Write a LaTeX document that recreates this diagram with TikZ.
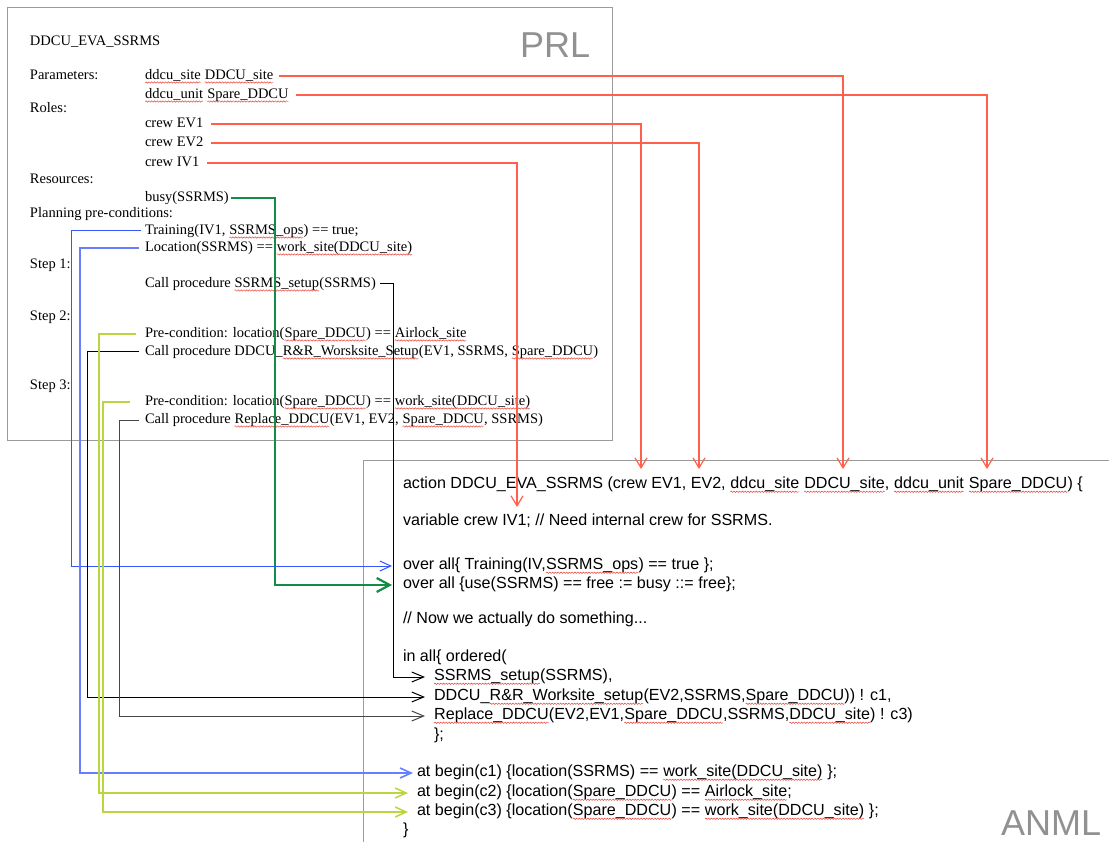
\documentclass[tikz,border=0pt]{standalone}
\usepackage{fontspec}
\setmainfont{Liberation Serif}
\newfontfamily\anmlfont{Liberation Sans}
\usetikzlibrary{arrows.meta,decorations.pathmorphing}

\definecolor{redc}{RGB}{255,95,75}
\definecolor{bluec}{RGB}{55,85,250}
\definecolor{bluel}{RGB}{105,125,255}
\definecolor{greenc}{RGB}{20,140,70}
\definecolor{limec}{RGB}{185,215,60}
\definecolor{boxc}{RGB}{155,155,155}
\definecolor{labc}{RGB}{145,145,145}
\definecolor{sqc}{RGB}{230,60,50}
\definecolor{darkk}{RGB}{70,70,70}

\newcommand\sq[1]{\tikz[baseline=(sqw.base)]{\node[inner sep=0pt,outer sep=0pt,anchor=base west,text height=,text depth=](sqw) at (0,0){#1};\draw[sqc,line width=0.45pt,decorate,decoration={snake,amplitude=0.7pt,segment length=2.8pt}]([yshift=-3pt]sqw.base west)--([yshift=-3pt]sqw.base east);}}

\begin{document}
\begin{tikzpicture}[x=1pt,y=-1pt,
  prl/.style={anchor=west,inner sep=0pt,outer sep=0pt,text height=10pt,text depth=3pt,font=\fontsize{14.5}{16}\selectfont},
  an/.style={anchor=west,inner sep=0pt,outer sep=0pt,text height=11pt,text depth=3.5pt,font=\anmlfont\fontsize{16.1}{18}\selectfont},
  biglab/.style={anchor=base west,inner sep=0pt,text=labc,font=\anmlfont\fontsize{36}{38}\selectfont},
  boxline/.style={draw=boxc,line width=1pt},
  redarr/.style={draw=redc,line width=1.2pt,-{Straight Barb[length=10pt,width=12pt]}},
  bluearr/.style={draw=bluec,line width=1pt,-{Straight Barb[length=11pt,width=10pt]}},
  bluearrb/.style={draw=bluel,line width=1.6pt,-{Straight Barb[length=11pt,width=10pt]}},
  greenarr/.style={draw=greenc,line width=2.2pt,-{Straight Barb[length=13pt,width=14pt]}},
  limearr/.style={draw=limec,line width=1.5pt,-{Straight Barb[length=11pt,width=10pt]}},
  blackarr/.style={draw=black,line width=1pt,-{Straight Barb[length=12pt,width=10pt]}},
  greyarr/.style={draw=darkk,line width=1pt,-{Straight Barb[length=12pt,width=10pt]}}
]
\useasboundingbox[fill=white] (0,0) rectangle (1109,842);

% boxes
\draw[boxline] (7,8) rectangle (612,440);
\draw[boxline] (1109,460) -- (363,460) -- (363,842);

\node[biglab] (prllab) at (520,58) {PRL};
\node[biglab] (anmllab) at (1001,835) {ANML};

% PRL text
\node[prl] (title) at (30,42) {DDCU\_EVA\_SSRMS};
\node[prl] (lpar) at (30,76) {Parameters:};
\node[prl] (psite) at (145,76) {\sq{ddcu\_site} \sq{DDCU\_site}};
\node[prl] (punit) at (145,95) {\sq{ddcu\_unit} \sq{Spare\_DDCU}};
\node[prl] (lroles) at (30,109) {Roles:};
\node[prl] (rev1) at (145,124) {crew EV1};
\node[prl] (rev2) at (145,143) {crew EV2};
\node[prl] (riv1) at (145,163) {crew IV1};
\node[prl] (lres) at (30,180) {Resources:};
\node[prl] (rbusy) at (145,198) {busy(SSRMS)};
\node[prl] (lplan) at (30,214) {Planning pre-conditions:};
\node[prl] (ptrain) at (145,231) {Training(IV1, \sq{SSRMS\_ops}) == true;};
\node[prl] (ploc) at (145,248) {Location(SSRMS) == \sq{work\_site(DDCU\_site)}};
\node[prl] (ls1) at (30,265) {Step 1:};
\node[prl] (scall1) at (145,284) {Call procedure \sq{SSRMS\_setup}(SSRMS)};
\node[prl] (ls2) at (30,317) {Step 2:};
\node[prl] (spre2) at (145,334) {Pre-condition: location(\sq{Spare\_DDCU}) == \sq{Airlock\_site}};
\node[prl] (scall2) at (145,352) {Call procedure DDCU\_\sq{R\&R\_Worsksite\_Setup}(EV1, SSRMS, \sq{Spare\_DDCU})};
\node[prl] (ls3) at (30,386) {Step 3:};
\node[prl] (spre3) at (145,402) {Pre-condition: location(\sq{Spare\_DDCU}) == \sq{work\_site(DDCU\_site)}};
\node[prl] (scall3) at (145,420) {Call procedure \sq{Replace\_DDCU}(EV1, EV2, \sq{Spare\_DDCU}, SSRMS)};

% ANML text
\node[an] (aaction) at (403,485) {action DDCU\_EVA\_SSRMS (crew EV1, EV2, \sq{ddcu\_site} \sq{DDCU\_site}, \sq{ddcu\_unit} \sq{Spare\_DDCU}) \{};
\node[an] (avar) at (403,522) {variable crew IV1; // Need internal crew for SSRMS.};
\node[an] (aov1) at (403,566) {over all\{ Training(IV,\sq{SSRMS\_ops}) == true \};};
\node[an] (aov2) at (403,585) {over all \{use(SSRMS) == free := busy ::= free\};};
\node[an] (anow) at (403,620) {// Now we actually do something...};
\node[an] (ainall) at (403,658) {in all\{ ordered(};
\node[an] (asetup) at (434,677) {\sq{SSRMS\_setup}(SSRMS),};
\node[an] (arr) at (434,697) {DDCU\_\sq{R\&R\_Worksite\_setup}(EV2,SSRMS,\sq{Spare\_DDCU})) ! c1,};
\node[an] (arepl) at (434,716) {\sq{Replace\_DDCU}(EV2,EV1,\sq{Spare\_DDCU},SSRMS,\sq{DDCU\_site}) ! c3)};
\node[an] (aclose) at (434,736) {\};};
\node[an] (ac1) at (417,773) {at begin(c1) \{location(SSRMS) == \sq{work\_site(DDCU\_site)} \};};
\node[an] (ac2) at (417,793) {at begin(c2) \{location(\sq{Spare\_DDCU}) == \sq{Airlock\_site};};
\node[an] (ac3) at (417,812) {at begin(c3) \{location(\sq{Spare\_DDCU}) == \sq{work\_site(DDCU\_site)} \};};
\node[an] (aend) at (403,831) {\}};

% targets and lanes
\coordinate (tev1) at (641,469);
\coordinate (tev2) at (699,469);
\coordinate (tsite) at (843,469);
\coordinate (tunit) at (987,469);
\coordinate (tiv1) at (517,507);
\coordinate (lng) at (275,0);
\coordinate (lnb1) at (71,0);
\coordinate (lnb2) at (80,0);
\coordinate (lnk1) at (393,0);
\coordinate (lnl1) at (99,0);
\coordinate (lnk2) at (87,0);
\coordinate (lnl2) at (103,0);
\coordinate (lnk3) at (119,0);

% red connectors
\draw[redarr] ([xshift=5pt]psite.east) -| (tsite);
\draw[redarr] ([xshift=7pt]punit.east) -| (tunit);
\draw[redarr] ([xshift=8pt]rev1.east) -| (tev1);
\draw[redarr] ([xshift=8pt]rev2.east) -| (tev2);
\draw[redarr] ([xshift=8pt]riv1.east) -| (tiv1);

% green
\draw[greenarr] ([xshift=2pt]rbusy.east) -| (lng |- aov2.west) -- ([xshift=-11pt]aov2.west);

% blue
\draw[bluearr] ([xshift=-4pt]ptrain.west) -| (lnb1 |- aov1.west) -- ([xshift=-11pt]aov1.west);
\draw[bluearrb] ([xshift=-6pt]ploc.west) -| (lnb2 |- ac1.west) -- ([xshift=-4pt]ac1.west);

% black / grey
\draw[blackarr] ([xshift=4pt]scall1.east) -| (lnk1 |- asetup.west) -- ([xshift=-9pt]asetup.west);
\draw[blackarr] ([xshift=-6pt]scall2.west) -| (lnk2 |- arr.west) -- ([xshift=-9pt]arr.west);
\draw[greyarr] ([xshift=-6pt]scall3.west) -| (lnk3 |- arepl.west) -- ([xshift=-9pt]arepl.west);

% lime
\draw[limearr] ([xshift=-9pt]spre2.west) -| (lnl1 |- ac2.west) -- ([xshift=-9pt]ac2.west);
\draw[limearr] ([xshift=-15pt]spre3.west) -| (lnl2 |- ac3.west) -- ([xshift=-9pt]ac3.west);
\end{tikzpicture}
\end{document}
